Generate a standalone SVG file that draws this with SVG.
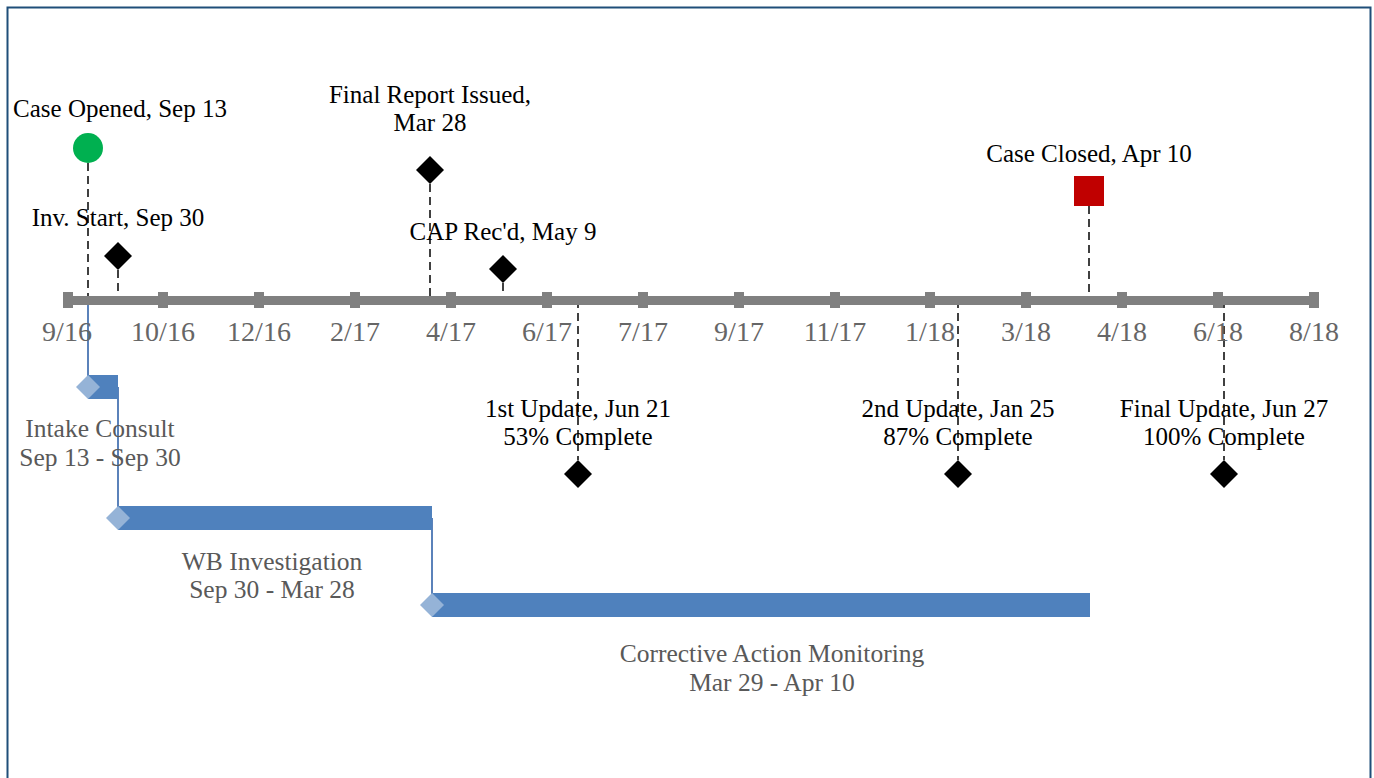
<svg xmlns="http://www.w3.org/2000/svg" width="1374" height="778" viewBox="0 0 1374 778">
<style>
.lbl{font-family:"Liberation Serif","Times New Roman",serif;font-size:25px;fill:#000;text-anchor:middle}
.ax{font-family:"Liberation Serif","Times New Roman",serif;font-size:28px;fill:#666;text-anchor:middle}
.tl{font-family:"Liberation Serif","Times New Roman",serif;font-size:25.5px;fill:#595959;text-anchor:middle}
.dash{stroke:#404040;stroke-width:2;stroke-dasharray:8,5;fill:none}
.tick{fill:#808080}
.bar{fill:#4F81BD}
.sd{fill:#95B3D7}
.conn{stroke:#5B82BA;stroke-width:2;fill:none}
.dia{fill:#000}
</style>
<rect x="0" y="0" width="1374" height="778" fill="#fff"/>
<rect x="7.5" y="7.5" width="1363" height="790" fill="none" stroke="#1F4E79" stroke-width="2"/>
<g id="connectors">
<line class="dash" x1="88" y1="163" x2="88" y2="300"/>
<line class="dash" x1="118" y1="270" x2="118" y2="300"/>
<line class="dash" x1="430" y1="184" x2="430" y2="300"/>
<line class="dash" x1="503" y1="283" x2="503" y2="300"/>
<line class="dash" x1="1089" y1="206" x2="1089" y2="300"/>
<line class="dash" x1="578" y1="300" x2="578" y2="460"/>
<line class="dash" x1="958" y1="300" x2="958" y2="460"/>
<line class="dash" x1="1224" y1="300" x2="1224" y2="460"/>
<line class="conn" x1="88" y1="305" x2="88" y2="387"/>
<line class="conn" x1="118" y1="387" x2="118" y2="518"/>
<line class="conn" x1="432" y1="518" x2="432" y2="605"/>
</g>
<g id="axis">
<rect x="63" y="296" width="1256" height="9" fill="#808080"/>
<rect class="tick" x="63" y="292" width="10" height="16"/>
<rect class="tick" x="158" y="292" width="10" height="16"/>
<rect class="tick" x="254" y="292" width="10" height="16"/>
<rect class="tick" x="350" y="292" width="10" height="16"/>
<rect class="tick" x="446" y="292" width="10" height="16"/>
<rect class="tick" x="542" y="292" width="10" height="16"/>
<rect class="tick" x="638" y="292" width="10" height="16"/>
<rect class="tick" x="734" y="292" width="10" height="16"/>
<rect class="tick" x="830" y="292" width="10" height="16"/>
<rect class="tick" x="925" y="292" width="10" height="16"/>
<rect class="tick" x="1021" y="292" width="10" height="16"/>
<rect class="tick" x="1117" y="292" width="10" height="16"/>
<rect class="tick" x="1213" y="292" width="10" height="16"/>
<rect class="tick" x="1309" y="292" width="10" height="16"/>
<text class="ax" x="67" y="341">9/16</text>
<text class="ax" x="163" y="341">10/16</text>
<text class="ax" x="259" y="341">12/16</text>
<text class="ax" x="355" y="341">2/17</text>
<text class="ax" x="451" y="341">4/17</text>
<text class="ax" x="547" y="341">6/17</text>
<text class="ax" x="643" y="341">7/17</text>
<text class="ax" x="739" y="341">9/17</text>
<text class="ax" x="835" y="341">11/17</text>
<text class="ax" x="930" y="341">1/18</text>
<text class="ax" x="1026" y="341">3/18</text>
<text class="ax" x="1122" y="341">4/18</text>
<text class="ax" x="1218" y="341">6/18</text>
<text class="ax" x="1314" y="341">8/18</text>
</g>
<g id="case-opened">
<circle cx="88" cy="148" r="15" fill="#00B050"/>
<text class="lbl" x="120" y="117">Case Opened, Sep 13</text>
</g>
<g id="inv-start">
<polygon class="dia" points="118,242 132,256 118,270 104,256"/>
<text class="lbl" x="118" y="226">Inv. Start, Sep 30</text>
</g>
<g id="final-report">
<polygon class="dia" points="430,156 444,170 430,184 416,170"/>
<text class="lbl" x="430" y="103">Final Report Issued,</text>
<text class="lbl" x="430" y="131">Mar 28</text>
</g>
<g id="cap-recd">
<polygon class="dia" points="503,255 517,269 503,283 489,269"/>
<text class="lbl" x="503" y="240">CAP Rec'd, May 9</text>
</g>
<g id="case-closed">
<rect x="1074" y="176" width="30" height="30" fill="#C00000"/>
<text class="lbl" x="1089" y="162">Case Closed, Apr 10</text>
</g>
<g id="update-1">
<text class="lbl" x="578" y="417">1st Update, Jun 21</text>
<text class="lbl" x="578" y="445">53% Complete</text>
<polygon class="dia" points="578,460 592,474 578,488 564,474"/>
</g>
<g id="update-2">
<text class="lbl" x="958" y="417">2nd Update, Jan 25</text>
<text class="lbl" x="958" y="445">87% Complete</text>
<polygon class="dia" points="958,460 972,474 958,488 944,474"/>
</g>
<g id="update-final">
<text class="lbl" x="1224" y="417">Final Update, Jun 27</text>
<text class="lbl" x="1224" y="445">100% Complete</text>
<polygon class="dia" points="1224,460 1238,474 1224,488 1210,474"/>
</g>
<g id="task-intake">
<rect class="bar" x="88" y="375" width="30" height="24"/>
<polygon class="sd" points="88,375 100,387 88,399 76,387"/>
<text class="tl" x="100" y="437">Intake Consult</text>
<text class="tl" x="100" y="466">Sep 13 - Sep 30</text>
</g>
<g id="task-wb">
<rect class="bar" x="118" y="506" width="314" height="24"/>
<polygon class="sd" points="118,506 130,518 118,530 106,518"/>
<text class="tl" x="272" y="570">WB Investigation</text>
<text class="tl" x="272" y="598">Sep 30 - Mar 28</text>
</g>
<g id="task-cam">
<rect class="bar" x="432" y="593" width="658" height="24"/>
<polygon class="sd" points="432,593 444,605 432,617 420,605"/>
<text class="tl" x="772" y="662">Corrective Action Monitoring</text>
<text class="tl" x="772" y="691">Mar 29 - Apr 10</text>
</g>
</svg>
